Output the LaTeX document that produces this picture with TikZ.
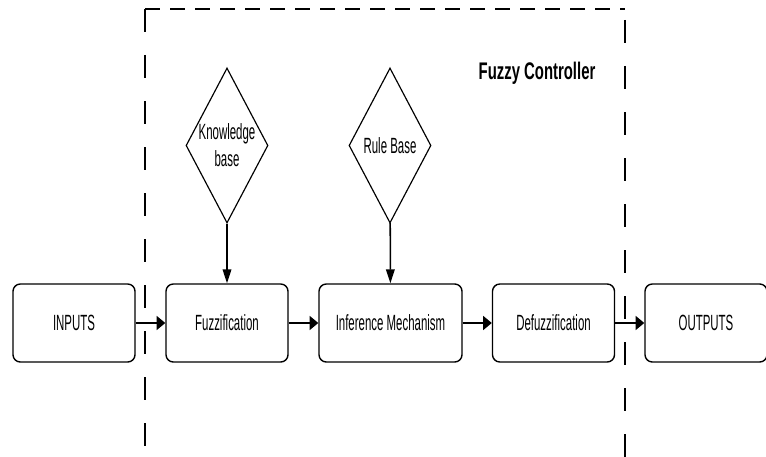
\documentclass[tikz,border=0pt]{standalone}
\usepackage{fontspec}
\setmainfont{Liberation Sans}[FakeStretch=0.52]
\newfontfamily\titlefont{Liberation Sans}[FakeStretch=0.62]
\usetikzlibrary{shapes.geometric,arrows.meta}

\begin{document}
\begin{tikzpicture}[x=0.03cm,y=-0.03cm]
    \tikzstyle{every node}+=[inner sep=0pt, font=\fontsize{18.8}{23}\selectfont]
    \tikzstyle{block}=[draw, line width=1.2pt, rounded corners=0.22cm, minimum width=3.66cm, minimum height=2.34cm]
    \tikzstyle{store}=[draw, diamond, line width=1pt, minimum width=2.46cm, minimum height=4.65cm]
    \tikzstyle{hflow}=[line width=1.3pt, -{Triangle[length=0.26cm,width=0.42cm]}]
    \tikzstyle{vflow}=[line width=1.3pt, -{Triangle[length=0.42cm,width=0.26cm]}]
    \useasboundingbox (0,0) rectangle (766,457);
    % controller border, open at the bottom
    \draw [line width=1.1pt, dash pattern=on 0.45cm off 0.3cm] (145,9) -- (625,9);
    \draw [line width=1.1pt, dash pattern=on 0.69cm off 0.69cm] (145,9) -- (145,470);
    \draw [line width=1.1pt, dash pattern=on 0.69cm off 0.69cm] (625,20) -- (625,470);
    \node [font={\titlefont\bfseries\fontsize{20.5}{24}\selectfont}] (title) at (537,73) {Fuzzy Controller};
    % main chain
    \node [block] (in) at (74,323) {INPUTS};
    \node [block] (fuz) at (227,323) {Fuzzification};
    \node [block, minimum width=4.29cm] (inf) at (390.5,323) {Inference Mechanism};
    \node [block] (defuz) at (553.5,323) {Defuzzification};
    \node [block] (out) at (706,323) {OUTPUTS};
    % bases
    \node [store, label={[align=center]center:Knowledge\\base}] (kb) at (227,145.5) {};
    \node [store, label=center:Rule Base] (rb) at (390,145.5) {};
    \draw [vflow] (kb) -- (fuz);
    \draw [vflow] (rb) -- (inf);
    \draw [hflow] (in) -- (fuz);
    \draw [hflow] (fuz) -- (inf);
    \draw [hflow] (inf) -- (defuz);
    \draw [hflow] (defuz) -- (out);
\end{tikzpicture}
\end{document}
